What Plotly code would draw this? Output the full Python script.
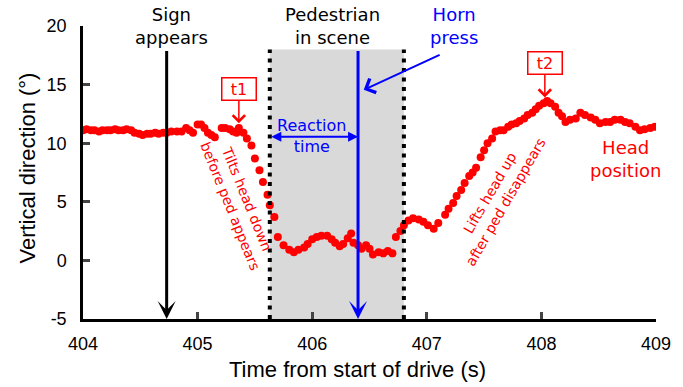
import plotly.graph_objects as go

# Head pitch samples over the drive window (time in s, angle in degrees)
time_s = [
    404.00, 404.03, 404.07, 404.10, 404.14, 404.17, 404.21, 404.24, 404.28, 404.31,
    404.35, 404.38, 404.42, 404.45, 404.49, 404.52, 404.56, 404.59, 404.63, 404.66,
    404.70, 404.73, 404.77, 404.82, 404.86, 404.90, 404.93, 404.96, 405.00, 405.03,
    405.06, 405.09, 405.12, 405.15, 405.21, 405.24, 405.28, 405.31, 405.34, 405.36,
    405.40, 405.43, 405.47, 405.50, 405.54, 405.57, 405.61, 405.63, 405.67, 405.70,
    405.75, 405.80, 405.84, 405.88, 405.93, 405.96, 406.00, 406.04, 406.08, 406.13,
    406.17, 406.20, 406.24, 406.27, 406.31, 406.34, 406.36, 406.40, 406.43, 406.47,
    406.50, 406.53, 406.58, 406.62, 406.66, 406.70, 406.73, 406.77, 406.80, 406.84,
    406.88, 406.93, 406.97, 407.01, 407.06, 407.10, 407.16, 407.19, 407.23, 407.26,
    407.30, 407.33, 407.37, 407.40, 407.43, 407.47, 407.50, 407.53, 407.57, 407.60,
    407.64, 407.67, 407.71, 407.74, 407.78, 407.81, 407.85, 407.88, 407.92, 407.95,
    407.98, 408.02, 408.05, 408.08, 408.12, 408.15, 408.18, 408.21, 408.25, 408.30,
    408.34, 408.38, 408.43, 408.47, 408.51, 408.56, 408.60, 408.64, 408.69, 408.73,
    408.77, 408.82, 408.86, 408.90, 408.95, 408.99,
]
vertical_deg = [
    11.1, 11.2, 11.1, 11.1, 11.0, 11.1, 11.1, 11.1, 11.2, 11.1,
    11.1, 11.2, 11.1, 10.9, 10.8, 10.7, 10.8, 10.8, 10.9, 10.8,
    10.9, 10.9, 11.0, 11.0, 11.0, 11.3, 11.1, 10.9, 11.6, 11.6,
    11.3, 10.9, 10.7, 10.5, 11.3, 11.3, 11.2, 11.0, 10.9, 11.3,
    10.9, 10.4, 9.8, 8.7, 7.7, 6.7, 5.6, 4.7, 3.7, 2.0,
    1.3, 0.9, 0.7, 0.9, 1.1, 1.4, 1.8, 2.0, 2.1, 2.1,
    1.8, 1.5, 1.2, 1.4, 1.9, 2.3, 1.5, 1.3, 1.0, 1.3,
    1.0, 0.5, 0.7, 0.6, 0.8, 0.6, 2.0, 2.5, 3.0, 3.4,
    3.6, 3.5, 3.3, 3.0, 2.7, 3.2, 3.9, 4.4, 4.9, 5.5,
    6.0, 6.6, 7.2, 7.5, 7.9, 8.8, 9.4, 10.0, 10.4, 11.0,
    11.1, 11.1, 11.4, 11.6, 11.7, 11.9, 12.1, 12.4, 12.6, 12.9,
    13.2, 13.4, 13.6, 13.4, 13.1, 12.6, 12.3, 11.8, 12.0, 12.1,
    12.6, 12.4, 12.2, 12.0, 11.7, 11.8, 11.8, 12.0, 12.0, 11.8,
    11.7, 11.4, 11.1, 11.2, 11.3, 11.4,
]

# Event times (s)
sign_time = 404.73
ped_start, ped_end = 405.63, 406.80
horn_time = 406.40
t1_time, t1_deg = 405.36, 11.7
t2_time, t2_deg = 408.03, 13.9
event_top = 18.0

x_ticks = [404, 405, 406, 407, 408, 409]
y_ticks = [-5, 0, 5, 10, 15, 20]
y_tick_text = ["-5", "0", "5", "10", "15", "20"]

RED = "#FF0000"
BLUE = "#0000FF"
TXT = "DejaVu Sans"
AX = "Liberation Sans"

fig = go.Figure()
fig.add_trace(go.Scatter(
    x=time_s, y=vertical_deg, mode="markers",
    marker=dict(color=RED, size=8, line=dict(width=0)),
    showlegend=False, hoverinfo="x+y",
))

# Pedestrian-in-scene window
fig.add_shape(type="rect", x0=ped_start, x1=ped_end, y0=-5, y1=event_top,
              fillcolor="#D9D9D9", line=dict(width=0), layer="below")
for xe in (ped_start, ped_end):
    fig.add_shape(type="line", x0=xe, x1=xe, y0=-5, y1=event_top,
                  line=dict(color="black", width=4, dash="4px,5.5px"), layer="above")

ann = []
# Sign and horn event arrows
for xe, col in ((sign_time, "black"), (horn_time, BLUE)):
    ann.append(dict(x=xe, y=-5, ax=xe, ay=event_top, xref="x", yref="y",
                    axref="x", ayref="y", text="", showarrow=True,
                    arrowhead=3, arrowsize=1, arrowwidth=3, arrowcolor=col))

ann.append(dict(x=sign_time + 0.04, y=20, xref="x", yref="y", text="Sign<br>appears",
                showarrow=False, font=dict(family=TXT, size=18, color="black")))
ann.append(dict(x=406.18, y=20, xref="x", yref="y", text="Pedestrian<br>in scene",
                showarrow=False, font=dict(family=TXT, size=18, color="black")))
ann.append(dict(x=407.24, y=20, xref="x", yref="y", text="Horn<br>press",
                showarrow=False, font=dict(family=TXT, size=18, color=BLUE)))
ann.append(dict(x=406.45, y=14.55, ax=407.125, ay=17.6, xref="x", yref="y",
                axref="x", ayref="y", text="", showarrow=True,
                arrowhead=4, arrowsize=1.5, arrowwidth=2, arrowcolor=BLUE))

# Reaction time span
ann.append(dict(x=horn_time, y=10.55, ax=ped_start, ay=10.55, xref="x", yref="y",
                axref="x", ayref="y", text="", showarrow=True,
                arrowhead=2, startarrowhead=2, arrowside="end+start",
                arrowsize=1, startarrowsize=1, arrowwidth=2, arrowcolor=BLUE))
ann.append(dict(x=406.0, y=10.6, xref="x", yref="y", text="Reaction<br>time",
                showarrow=False, font=dict(family=TXT, size=16, color=BLUE)))

# t1 / t2 markers
for lab, tx, ty in (("t1", t1_time, t1_deg), ("t2", t2_time, t2_deg)):
    ann.append(dict(x=tx, y=ty, xref="x", yref="y", text=lab, showarrow=True,
                    ax=0, ay=-34, arrowhead=4, arrowsize=1.6, arrowwidth=1.5,
                    arrowcolor=RED, bordercolor=RED, borderwidth=1.5, borderpad=1,
                    bgcolor="white", width=31, height=19,
                    font=dict(family=TXT, size=16, color=RED)))

ann.append(dict(x=405.36, y=4.9, xref="x", yref="y",
                text="Tilts head down<br>before ped appears", textangle=68,
                showarrow=False, font=dict(family=TXT, size=14, color=RED)))
ann.append(dict(x=407.62, y=5.4, xref="x", yref="y",
                text="Lifts head up<br>after ped disappears", textangle=-60,
                showarrow=False, font=dict(family=TXT, size=14, color=RED)))
ann.append(dict(x=408.73, y=8.65, xref="x", yref="y", text="Head<br>position",
                showarrow=False, font=dict(family=TXT, size=18, color=RED)))

# Axis titles
ann.append(dict(x=0.479, y=-0.174, xref="paper", yref="paper",
                text="Time from start of drive (s)", showarrow=False,
                xanchor="center", yanchor="middle",
                font=dict(family=AX, size=22, color="black")))
ann.append(dict(x=-0.097, y=0.515, xref="paper", yref="paper",
                text="Vertical direction (°)", showarrow=False, textangle=-90,
                xanchor="center", yanchor="middle",
                font=dict(family=AX, size=22, color="black")))

fig.update_layout(
    width=683, height=387,
    margin=dict(l=83, r=24, t=26, b=68),
    paper_bgcolor="white", plot_bgcolor="white",
    font=dict(family=AX, color="black"),
    annotations=ann,
    xaxis=dict(range=[404, 409], tickvals=x_ticks, ticks="inside", ticklen=7,
               tickwidth=2.5, showline=True, linewidth=2.5, linecolor="black",
               showgrid=False, zeroline=False, tickfont=dict(size=18),
               ticklabelstandoff=7),
    yaxis=dict(range=[-5, 20], tickvals=y_ticks, ticktext=y_tick_text,
               ticks="inside", ticklen=7,
               tickwidth=2.5, showline=True, linewidth=2.5, linecolor="black",
               showgrid=False, zeroline=False, tickfont=dict(size=18),
               ticklabelstandoff=10),
)

fig.write_html("out.html")
